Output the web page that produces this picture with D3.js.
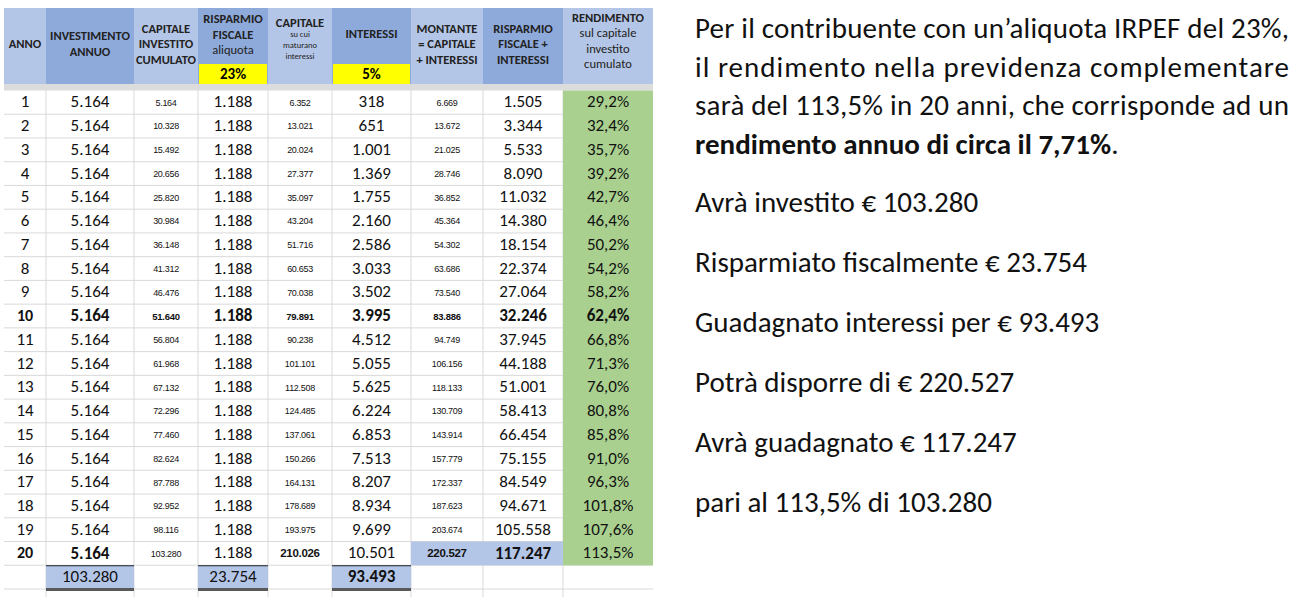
<!DOCTYPE html>
<html><head><meta charset="utf-8">
<script src="https://cdn.jsdelivr.net/npm/d3@7"></script>
<style>body{margin:0;background:#fff}svg{display:block}</style>
</head><body><svg id="chart" width="1298" height="597"></svg>
<script>
// Data
const anni = d3.range(1, 21);
const investimento = Array(20).fill("5.164");
const capitaleCumulato = ["5.164","10.328","15.492","20.656","25.820","30.984","36.148","41.312","46.476","51.640","56.804","61.968","67.132","72.296","77.460","82.624","87.788","92.952","98.116","103.280"];
const risparmio = Array(20).fill("1.188");
const capitaleMaturano = ["6.352","13.021","20.024","27.377","35.097","43.204","51.716","60.653","70.038","79.891","90.238","101.101","112.508","124.485","137.061","150.266","164.131","178.689","193.975","210.026"];
const interessi = ["318","651","1.001","1.369","1.755","2.160","2.586","3.033","3.502","3.995","4.512","5.055","5.625","6.224","6.853","7.513","8.207","8.934","9.699","10.501"];
const montante = ["6.669","13.672","21.025","28.746","36.852","45.364","54.302","63.686","73.540","83.886","94.749","106.156","118.133","130.709","143.914","157.779","172.337","187.623","203.674","220.527"];
const rispInteressi = ["1.505","3.344","5.533","8.090","11.032","14.380","18.154","22.374","27.064","32.246","37.945","44.188","51.001","58.413","66.454","75.155","84.549","94.671","105.558","117.247"];
const rendimento = ["29,2%","32,4%","35,7%","39,2%","42,7%","46,4%","50,2%","54,2%","58,2%","62,4%","66,8%","71,3%","76,0%","80,8%","85,8%","91,0%","96,3%","101,8%","107,6%","113,5%"];
const totali = ["", "103.280", "", "23.754", "", "93.493", "", "", ""];
const aliquote = ["23%", "5%"];
const headers = [
  [["ANNO",1]],
  [["INVESTIMENTO",1],["ANNUO",1]],
  [["CAPITALE",1],["INVESTITO",1],["CUMULATO",1]],
  [["RISPARMIO",1],["FISCALE",1],["aliquota",0]],
  [["CAPITALE",1],["su cui",2],["maturano",2],["interessi",2]],
  [["INTERESSI",1]],
  [["MONTANTE",1],["= CAPITALE",1],["+ INTERESSI",1]],
  [["RISPARMIO",1],["FISCALE +",1],["INTERESSI",1]],
  [["RENDIMENTO",1],["sul capitale",0],["investito",0],["cumulato",0]]
];
const testo = [
  "Per il contribuente con un\u2019aliquota IRPEF del 23%,",
  "il rendimento nella previdenza complementare",
  "sarà del 113,5% in 20 anni, che corrisponde ad un"
];
const paragrafi = ["Avrà investito € 103.280","Risparmiato fiscalmente € 23.754","Guadagnato interessi per € 93.493","Potrà disporre di € 220.527","Avrà guadagnato € 117.247","pari al 113,5% di 103.280"];

const cols = [anni, investimento, capitaleCumulato, risparmio, capitaleMaturano, interessi, montante, rispInteressi, rendimento];
const edges = [4, 46, 134, 198, 268, 332, 411, 483, 563, 653];
const small = [false,false,true,false,true,false,true,false,false];
const headDark = [false,true,false,true,false,true,false,true,false];
const font = "Carlito, Calibri, 'Open Sans', sans-serif";

const svg = d3.select("#chart");
const y = d3.scaleBand().domain(d3.range(21)).range([90.5, 589]);
const cx = i => (edges[i] + edges[i+1]) / 2;

// Header
const g = svg.append("g");
headers.forEach((h, i) => {
  g.append("rect").attr("x", edges[i]).attr("y", 8).attr("width", edges[i+1]-edges[i]).attr("height", 76)
    .attr("fill", headDark[i] ? "#8eaadb" : "#b4c6e7");
  const lh = i === 4 ? 11 : 15.5;
  const n = h.length;
  let top = i === 4 ? 24 : 45 - (n-1)*lh/2;
  if (i === 8) top = 19;
  if (i === 3) top = 20;
  if (i === 5) top = 35;
  h.forEach(([t, b], k) => {
    g.append("text").attr("x", cx(i)).attr("y", top + k*lh).attr("text-anchor", "middle")
      .attr("dominant-baseline", "middle").attr("font-family", font)
      .attr("font-weight", b === 1 ? "bold" : "normal").attr("font-size", b === 2 ? 8.5 : 12.5)
      .attr("fill", "#222").text(t);
  });
});
[3, 5].forEach((c, k) => {
  g.append("rect").attr("x", edges[c]+1).attr("y", 64).attr("width", edges[c+1]-edges[c]-2).attr("height", 20).attr("fill", "#ffff00");
  g.append("text").attr("x", cx(c)).attr("y", 75).attr("text-anchor", "middle").attr("dominant-baseline", "middle")
    .attr("font-family", font).attr("font-weight", "bold").attr("font-size", 15).text(aliquote[k]);
});
svg.append("rect").attr("x", 4).attr("y", 84).attr("width", 649).attr("height", 6.5).attr("fill", "#dcdcdc");

// Body backgrounds
svg.append("rect").attr("x", edges[8]).attr("y", y(0)).attr("width", edges[9]-edges[8]).attr("height", y.bandwidth()*20).attr("fill", "#a9d08e");
[6, 7].forEach(c => svg.append("rect").attr("x", edges[c]).attr("y", y(19)).attr("width", edges[c+1]-edges[c]).attr("height", y.bandwidth()).attr("fill", "#b4c6e7"));
totali.forEach((t, c) => {
  if (!t) return;
  svg.append("rect").attr("x", edges[c]).attr("y", y(20)).attr("width", edges[c+1]-edges[c]).attr("height", y.bandwidth()).attr("fill", "#b4c6e7");
  svg.append("line").attr("x1", edges[c]).attr("x2", edges[c+1]).attr("y1", y(20)+0.5).attr("y2", y(20)+0.5).attr("stroke", "#222");
  svg.append("rect").attr("x", edges[c]).attr("y", y(20)+y.bandwidth()-1).attr("width", edges[c+1]-edges[c]).attr("height", 3).attr("fill", "#595959");
});

// Grid
const grid = svg.append("g").attr("stroke", "#d9d9d9").attr("stroke-width", 1);
d3.range(22).forEach(r => { if (r > 0) grid.append("line").attr("x1", 4).attr("x2", 653).attr("y1", y(0) + r*y.bandwidth()).attr("y2", y(0) + r*y.bandwidth()); });
edges.slice(1, 9).forEach(e => grid.append("line").attr("x1", e).attr("x2", e).attr("y1", y(0)).attr("y2", 597));
grid.lower(); svg.select("rect").lower();

// Cells
const boldRow20 = [true, true, false, false, true, false, true, true, false];
cols.forEach((arr, c) => {
  arr.forEach((v, r) => {
    const bold = r === 9 || (r === 19 && boldRow20[c]);
    svg.append("text").attr("x", cx(c)).attr("y", y(r) + y.bandwidth()/2 + 1)
      .attr("text-anchor", "middle").attr("dominant-baseline", "middle")
      .attr("font-family", small[c] ? "'Liberation Sans', Arial, sans-serif" : font)
      .attr("font-size", small[c] ? (bold ? (r === 19 && c !== 2 ? 11.5 : 9.5) : 9) : (bold && c === 0 ? 16 : 17))
      .attr("font-weight", bold ? "bold" : "normal").attr("fill", "#111")
      .attr("letter-spacing", small[c] ? -0.3 : 0)
      .text(v);
  });
});
totali.forEach((t, c) => {
  if (!t) return;
  svg.append("text").attr("x", cx(c)).attr("y", y(20) + y.bandwidth()/2 + 1).attr("text-anchor", "middle")
    .attr("dominant-baseline", "middle").attr("font-family", font).attr("font-size", 17)
    .attr("font-weight", c === 5 ? "bold" : "normal").attr("fill", "#111").text(t);
});

// Right text
const tg = svg.append("g").attr("font-family", font).attr("font-size", 29).attr("fill", "#111");
testo.forEach((t, k) => tg.append("text").attr("x", 695).attr("y", 38 + k*38.5)
  .attr("textLength", 594).attr("lengthAdjust", "spacing").text(t));
const last = tg.append("text").attr("x", 695).attr("y", 153.5);
last.append("tspan").attr("font-weight", "bold").text("rendimento annuo di circa il 7,71%");
last.append("tspan").text(".");
paragrafi.forEach((t, k) => tg.append("text").attr("x", 695).attr("y", 212 + k*60).text(t));
</script></body></html>
